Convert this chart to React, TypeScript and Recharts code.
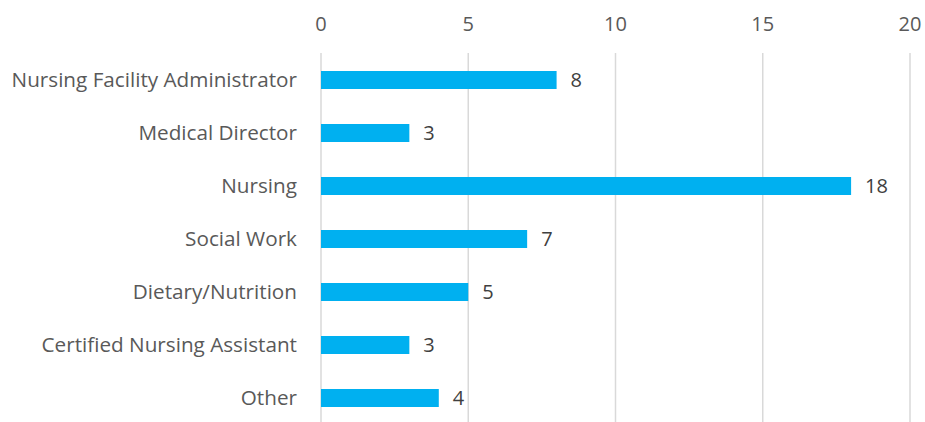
import React from "react";
import { BarChart, Bar, XAxis, YAxis, CartesianGrid, LabelList } from "recharts";

const categories = [
  "Nursing Facility Administrator",
  "Medical Director",
  "Nursing",
  "Social Work",
  "Dietary/Nutrition",
  "Certified Nursing Assistant",
  "Other",
];
const counts = [8, 3, 18, 7, 5, 3, 4];
const xTicks = [0, 5, 10, 15, 20];

const data = categories.map((name, i) => ({ name, value: counts[i] }));

const FONT = "'Open Sans', Lato, sans-serif";

export default function App() {
  return (
    <div style={{ position: "absolute", left: 0, top: 0 }}>
      <BarChart
        width={925}
        height={430}
        data={data}
        layout="vertical"
        margin={{ top: 0, right: 15, bottom: 6, left: 0 }}
        barCategoryGap={0}
      >
        <CartesianGrid horizontal={false} vertical={true} stroke="#d9d9d9" strokeWidth={1.5} />
        <XAxis
          type="number"
          orientation="top"
          domain={[0, 20]}
          ticks={xTicks}
          height={53}
          axisLine={false}
          tickLine={false}
          tickSize={0}
          tickMargin={22}
          tick={{ fill: "#595959", fontSize: 20, fontFamily: FONT }}
          interval={0}
        />
        <YAxis
          type="category"
          dataKey="name"
          width={321}
          axisLine={false}
          tickLine={false}
          tickSize={0}
          tickMargin={24}
          tick={{ fill: "#595959", fontSize: 20.7, fontFamily: FONT }}
          interval={0}
        />
        <Bar dataKey="value" fill="#00B0F0" barSize={18} isAnimationActive={false}>
          <LabelList
            dataKey="value"
            position="right"
            offset={14}
            style={{ fill: "#404040", fontSize: 20, fontFamily: FONT }}
          />
        </Bar>
      </BarChart>
    </div>
  );
}
